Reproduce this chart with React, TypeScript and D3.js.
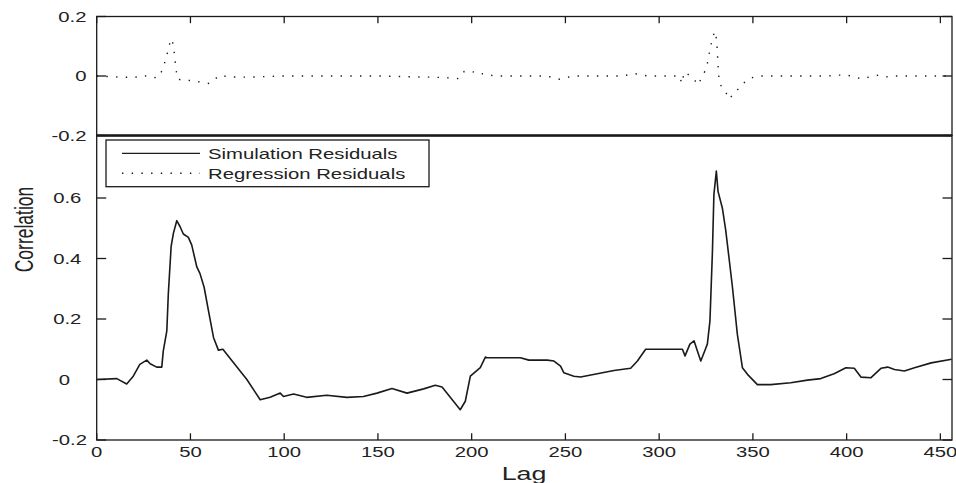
import React from "react";
import * as d3 from "d3";

// ---- data ----
const xTicks = [0, 50, 100, 150, 200, 250, 300, 350, 400, 450];
const topYTicks = [-0.2, 0, 0.2];
const topYLabels = ["-0.2", "0", "0.2"];
const botYTicks = [-0.2, 0, 0.2, 0.4, 0.6];
const botYLabels = ["-0.2", "0", "0.2", "0.4", "0.6"];
const legendLabels = ["Simulation Residuals", "Regression Residuals"];
const xLabel = "Lag";
const yLabel = "Correlation";

const simLag = [
  0, 10.7, 16, 19.5, 23, 26.7, 28.5, 32, 34.7, 35.5,
  37.4, 38.2, 39.7, 40.9, 42.7, 44.5, 46.2, 48.9, 50.7, 53.4,
  55.1, 57.3, 59.6, 62.3, 64.9, 67.3, 73, 80.1, 87.2, 92.5,
  97.9, 99.6, 105, 112, 122.7, 133.4, 142.3, 149.5, 157.5, 165.5,
  174.4, 180.6, 184.2, 193.9, 196.6, 199.3, 204.6, 207.3, 208.2, 226,
  230.5, 240.3, 243.9, 247.4, 249.2, 254.5, 258.1, 267, 275.9, 284.8,
  288.4, 292.8, 312.4, 313.8, 316.4, 318.6, 320.4, 322.2, 324.3, 325.7,
  327.1, 328.4, 329.2, 330.5, 331.4, 333.7, 335.5, 337.3, 339.1, 341.7,
  344.4, 347.1, 352.4, 359.5, 370.2, 379.1, 386.2, 393.3, 399.6, 404.1,
  407.6, 413, 418.3, 421.9, 425.5, 430.8, 436.2, 445.1, 456,
];
const simCorr = [
  0, 0.003, -0.015, 0.011, 0.05, 0.064, 0.052, 0.041, 0.041, 0.094,
  0.161, 0.283, 0.44, 0.483, 0.525, 0.505, 0.481, 0.47, 0.444, 0.372,
  0.35, 0.305, 0.228, 0.139, 0.097, 0.1, 0.055, 0.0, -0.067, -0.059,
  -0.045, -0.056, -0.048, -0.059, -0.052, -0.059, -0.056, -0.045, -0.03, -0.045,
  -0.031, -0.019, -0.025, -0.1, -0.072, 0.011, 0.039, 0.074, 0.072, 0.072,
  0.064, 0.064, 0.061, 0.044, 0.022, 0.011, 0.008, 0.019, 0.03, 0.037,
  0.061, 0.1, 0.1, 0.078, 0.117, 0.128, 0.094, 0.061, 0.094, 0.117,
  0.194, 0.42, 0.611, 0.689, 0.622, 0.567, 0.494, 0.4, 0.305, 0.15,
  0.039, 0.017, -0.017, -0.017, -0.011, -0.002, 0.003, 0.019, 0.039, 0.037,
  0.008, 0.006, 0.037, 0.041, 0.033, 0.028, 0.039, 0.055, 0.067,
];

const regLag = [
  0, 10, 20, 25, 30, 33, 35, 37, 39, 40,
  41, 42, 43, 45, 50, 55, 60, 63, 66, 70,
  80, 100, 150, 185, 193, 196, 200, 203, 207, 212,
  240, 247, 254, 280, 287, 294, 311, 312, 313.5, 315,
  317, 319, 321, 322.5, 324, 325.5, 327, 328.5, 329.8, 330.7,
  331.3, 332, 334, 336, 337.5, 340, 344, 346, 350, 353,
  390, 395, 400, 404, 408, 413, 417, 421, 425, 456,
];
const regCorr = [
  0, -0.003, -0.005, 0.002, -0.006, -0.004, 0.02, 0.06, 0.11, 0.125,
  0.1, 0.04, -0.01, -0.013, -0.015, -0.02, -0.025, -0.01, 0.003, -0.003,
  -0.004, 0, 0, -0.005, -0.009, 0.015, 0.017, 0.006, 0.008, 0,
  0, -0.011, 0, 0, 0.008, 0, 0, -0.025, 0.014, 0.008,
  -0.003, -0.015, -0.03, -0.005, 0.01, 0.035, 0.085, 0.13, 0.15, 0.12,
  0.05, -0.02, -0.045, -0.06, -0.078, -0.055, -0.035, -0.017, -0.005, 0,
  0, 0.003, 0.003, -0.002, -0.01, -0.002, 0.003, -0.003, 0, 0,
];

// ---- layout ----
const W = 956;
const H = 483;
const L = 96.7;
const R = 952;
const TOP_T = 16.5;
const TOP_B = 135.5;
const BOT_B = 440;
const SX = 1.45; // horizontal stretch of the text in the reference
const FONT = "'Liberation Sans', Arial, Helvetica, sans-serif";
const INK = "#1a1a1a";
const DOT = "1.4 8.3";
const AXW = 1.3;

const x = d3.scaleLinear().domain([0, 456.2]).range([L, R]);
const yTop = d3.scaleLinear().domain([-0.2, 0.2]).range([TOP_B, TOP_T]);
const yBot = d3.scaleLinear().domain([-0.2, 0.8]).range([BOT_B, 137.5]);

const simData = simLag.map((l, i) => [l, simCorr[i]] as [number, number]);
const regData = regLag.map((l, i) => [l, regCorr[i]] as [number, number]);

const simLine = d3
  .line<[number, number]>()
  .x((d) => x(d[0]))
  .y((d) => yBot(d[1]));
const regLine = d3
  .line<[number, number]>()
  .x((d) => x(d[0]))
  .y((d) => yTop(d[1]));

function T(props: {
  x: number;
  y: number;
  anchor?: string;
  size?: number;
  rotate?: boolean;
  dx?: number;
  children: React.ReactNode;
}) {
  const { x: tx, y: ty, anchor = "start", size = 14, rotate, dx = 0, children } = props;
  return (
    <text
      transform={`translate(${tx},${ty}) scale(${SX},1)${rotate ? " rotate(-90)" : ""}`}
      textAnchor={anchor as any}
      fontSize={size}
      fontFamily={FONT}
      fill="#222"
      dx={dx}
    >
      {children}
    </text>
  );
}

export default function App() {
  const yTickLen = 9.5;
  const xTickLen = 6.7;
  const spaceW = 0.278 * 14;
  return (
    <svg
      width={W}
      height={H}
      style={{ position: "absolute", left: 0, top: 0, background: "#fff" }}
    >
      <rect x={0} y={0} width={W} height={H} fill="#fff" />

      {/* ---------- bottom panel ---------- */}
      <path d={simLine(simData) || ""} fill="none" stroke={INK} strokeWidth={1.6} strokeLinejoin="round" />
      {xTicks.map((t) => (
        <g key={"bx" + t}>
          <line x1={x(t)} x2={x(t)} y1={BOT_B} y2={BOT_B - xTickLen} stroke={INK} strokeWidth={AXW} />
          <T x={x(t)} y={457} anchor="middle">
            {String(t)}
          </T>
        </g>
      ))}
      {botYTicks.map((t, i) => (
        <g key={"by" + t}>
          <line x1={L} x2={L + yTickLen} y1={yBot(t)} y2={yBot(t)} stroke={INK} strokeWidth={AXW} />
          <line x1={R} x2={R - yTickLen} y1={yBot(t)} y2={yBot(t)} stroke={INK} strokeWidth={AXW} />
          <T x={87} y={yBot(t) + 5} anchor="end" dx={-(4 - botYLabels[i].length) * spaceW}>
            {botYLabels[i]}
          </T>
        </g>
      ))}
      <rect x={L} y={TOP_B} width={R - L} height={BOT_B - TOP_B} fill="none" stroke={INK} strokeWidth={AXW} />

      {/* legend */}
      <rect x={106} y={140} width={323} height={46.7} fill="#fff" stroke={INK} strokeWidth={1.3} />
      <line x1={122} x2={200} y1={153.3} y2={153.3} stroke={INK} strokeWidth={1.3} />
      <line x1={122} x2={200} y1={173.3} y2={173.3} stroke={INK} strokeWidth={1.4} strokeDasharray={DOT} />
      <T x={208} y={159.3}>{legendLabels[0]}</T>
      <T x={208} y={179.3}>{legendLabels[1]}</T>

      {/* ---------- top panel ---------- */}
      <rect x={L} y={TOP_T} width={R - L} height={TOP_B - TOP_T} fill="#fff" />
      <path d={regLine(regData) || ""} fill="none" stroke={INK} strokeWidth={1.4} strokeDasharray={DOT} />
      {xTicks.map((t) => (
        <line key={"tx" + t} x1={x(t)} x2={x(t)} y1={TOP_T} y2={TOP_T + xTickLen} stroke={INK} strokeWidth={AXW} />
      ))}
      {topYTicks.map((t, i) => (
        <g key={"ty" + t}>
          <line x1={L} x2={L + yTickLen} y1={yTop(t)} y2={yTop(t)} stroke={INK} strokeWidth={AXW} />
          <line x1={R} x2={R - yTickLen} y1={yTop(t)} y2={yTop(t)} stroke={INK} strokeWidth={AXW} />
          <T x={86.5} y={yTop(t) + 5} anchor="end">
            {topYLabels[i]}
          </T>
        </g>
      ))}
      <rect x={L} y={TOP_T} width={R - L} height={TOP_B - TOP_T} fill="none" stroke={INK} strokeWidth={AXW} />
      <line x1={L} x2={R} y1={TOP_B} y2={TOP_B} stroke={INK} strokeWidth={2.4} />

      {/* axis titles */}
      <T x={524} y={480} anchor="middle" size={18.5}>
        {xLabel}
      </T>
      <T x={33} y={229.5} anchor="middle" size={17.5} rotate>
        {yLabel}
      </T>
    </svg>
  );
}
